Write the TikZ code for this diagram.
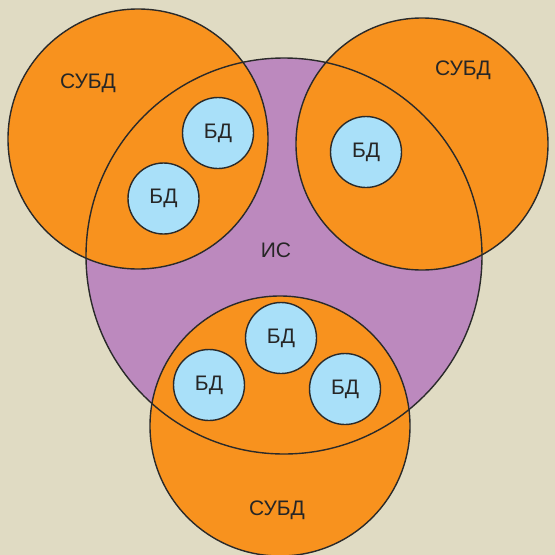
\documentclass[tikz,border=0pt]{standalone}
\usepackage{fontspec}
\setmainfont{Liberation Sans}
\definecolor{bgc}{HTML}{E0DBC3}
\definecolor{orng}{HTML}{F8921E}
\definecolor{purp}{HTML}{BC89BE}
\definecolor{lblue}{HTML}{A9E0F9}
\definecolor{edge}{HTML}{2A2A2A}
\tikzset{
  outline/.style={draw=edge, line width=1.4pt},
  lbl/.style={font=\fontsize{21}{24}\selectfont, text=black!85},
  dbcirc/.style={circle, fill=lblue, draw=edge, line width=1.4pt, minimum size=71pt, inner sep=0pt, font=\fontsize{21}{24}\selectfont, text=black!85}
}
\begin{document}
\begin{tikzpicture}[x=1pt,y=-1pt]
\fill[bgc] (0,0) rectangle (555,555);
\useasboundingbox (0,0) rectangle (555,555);
% fills
\fill[purp] (284,256) circle (198);
\fill[orng] (138,139) circle (130);
\fill[orng] (422,144) circle (126);
\fill[orng] (280,426) circle (130);
% outlines
\draw[outline] (284,256) circle (198);
\draw[outline] (138,139) circle (130);
\draw[outline] (422,144) circle (126);
\draw[outline] (280,426) circle (130);
% labels
\node[lbl] (s1) at (88,83) {СУБД};
\node[lbl] (s2) at (463,70) {СУБД};
\node[lbl] (s3) at (277,510) {СУБД};
\node[lbl] (is) at (276,250) {ИС};
% DB circles
\node[dbcirc] (d1) at (218,133) {БД};
\node[dbcirc] (d2) at (163.5,198.5) {БД};
\node[dbcirc] (d3) at (366,152) {БД};
\node[dbcirc] (d4) at (281,338) {БД};
\node[dbcirc] (d5) at (209,385) {БД};
\node[dbcirc] (d6) at (345,389) {БД};
\end{tikzpicture}
\end{document}
